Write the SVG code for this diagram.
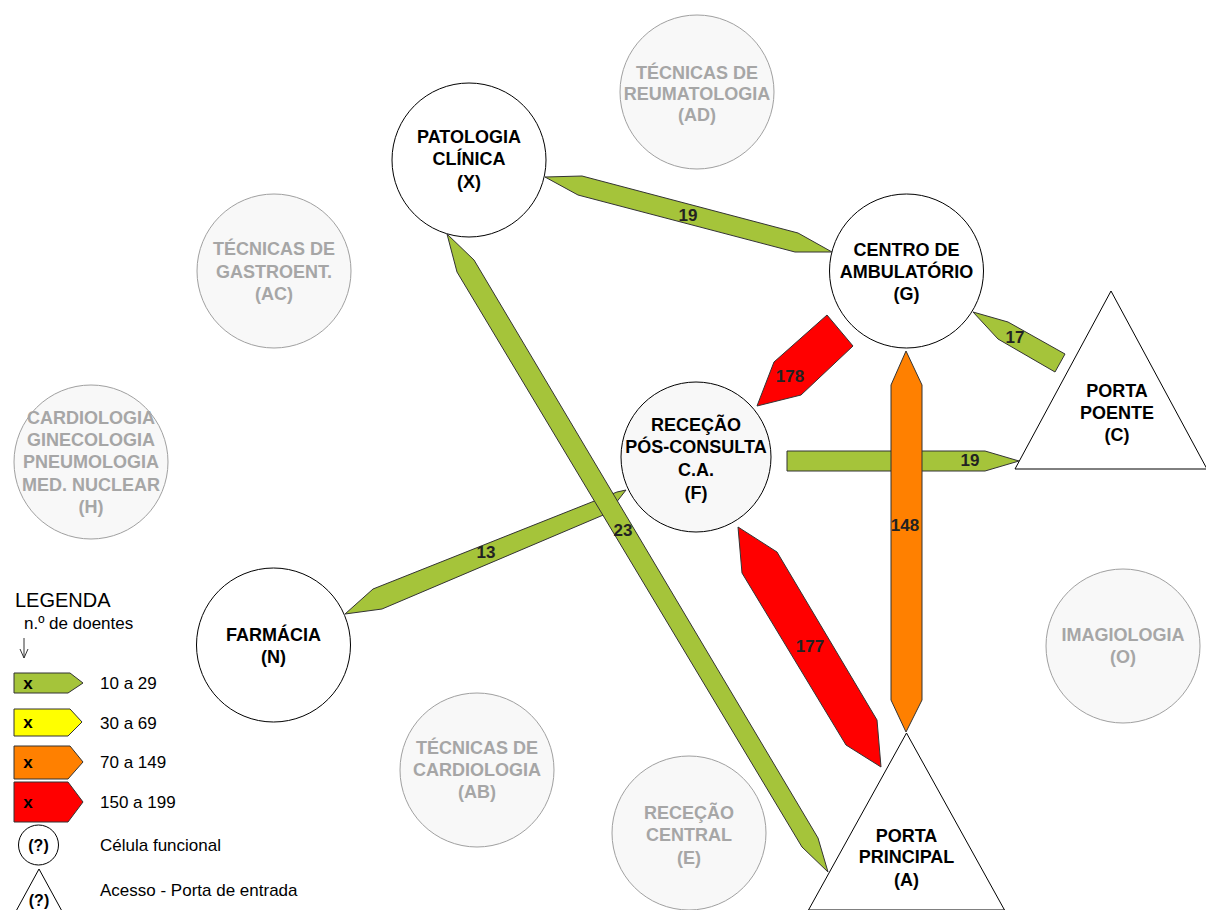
<svg xmlns="http://www.w3.org/2000/svg" width="1206" height="910" viewBox="0 0 1206 910">
<style>
text{font-family:"Liberation Sans",Arial,sans-serif;}
.n{font-size:18px;font-weight:bold;fill:#000;text-anchor:middle;}
.g{font-size:18px;font-weight:bold;fill:#a6a6a6;text-anchor:middle;}
.main{fill:#fff;stroke:#000;stroke-width:1;}
.grey{fill:#f8f8f8;stroke:#a0a0a0;stroke-width:1;}
.lbl{font-size:17px;font-weight:bold;fill:#222;text-anchor:middle;}
.ar{stroke:#333;stroke-width:1;stroke-linejoin:round;}
.gr{fill:#a5c43a;}
.ye{fill:#ffff00;}
.or{fill:#ff8000;}
.re{fill:#ff0000;}
.leg{font-size:17px;fill:#000;}
.lx{font-size:17px;font-weight:bold;fill:#000;text-anchor:middle;}
</style>
<rect width="1206" height="910" fill="#fff"/>

<g id="node-AD"><circle class="grey" cx="697" cy="92" r="77"/><text class="g" x="697" y="79">TÉCNICAS DE</text><text class="g" x="697" y="100">REUMATOLOGIA</text><text class="g" x="697" y="121">(AD)</text></g>
<g id="node-AC"><circle class="grey" cx="274" cy="271" r="77"/><text class="g" x="274" y="255">TÉCNICAS DE</text><text class="g" x="274" y="278">GASTROENT.</text><text class="g" x="274" y="300">(AC)</text></g>
<g id="node-H"><circle class="grey" cx="91" cy="462" r="77"/><text class="g" x="91" y="424">CARDIOLOGIA</text><text class="g" x="91" y="446">GINECOLOGIA</text><text class="g" x="91" y="468">PNEUMOLOGIA</text><text class="g" x="91" y="491">MED. NUCLEAR</text><text class="g" x="91" y="513">(H)</text></g>
<g id="node-AB"><circle class="grey" cx="477" cy="770" r="77"/><text class="g" x="477" y="754">TÉCNICAS DE</text><text class="g" x="477" y="776">CARDIOLOGIA</text><text class="g" x="477" y="798">(AB)</text></g>
<g id="node-E"><circle class="grey" cx="689" cy="833" r="77"/><text class="g" x="689" y="819">RECEÇÃO</text><text class="g" x="689" y="841">CENTRAL</text><text class="g" x="689" y="864">(E)</text></g>
<g id="node-O"><circle class="grey" cx="1123" cy="646" r="77"/><text class="g" x="1123" y="641">IMAGIOLOGIA</text><text class="g" x="1123" y="663">(O)</text></g>

<g id="node-X"><circle class="main" cx="469" cy="160" r="77"/><text class="n" x="469" y="143">PATOLOGIA</text><text class="n" x="469" y="165">CLÍNICA</text><text class="n" x="469" y="188">(X)</text></g>
<g id="node-G"><circle class="main" cx="906.5" cy="271" r="77"/><text class="n" x="906.5" y="256">CENTRO DE</text><text class="n" x="906.5" y="278">AMBULATÓRIO</text><text class="n" x="906.5" y="300">(G)</text></g>
<g id="node-F"><circle class="main" cx="696" cy="457" r="75" style="fill:#f8f8f8"/><text class="n" x="696" y="431">RECEÇÃO</text><text class="n" x="696" y="453">PÓS-CONSULTA</text><text class="n" x="696" y="476">C.A.</text><text class="n" x="696" y="499">(F)</text></g>
<g id="node-N"><circle class="main" cx="273.5" cy="645" r="77"/><text class="n" x="273.5" y="641">FARMÁCIA</text><text class="n" x="273.5" y="663">(N)</text></g>
<g id="node-C"><polygon class="main" points="1111,291 1207,469 1015,469"/><text class="n" x="1117" y="397">PORTA</text><text class="n" x="1117" y="419">POENTE</text><text class="n" x="1117" y="441">(C)</text></g>
<g id="node-A"><polygon class="main" points="906.5,733 1004.5,910 808.5,910"/><text class="n" x="906.5" y="842">PORTA</text><text class="n" x="906.5" y="863">PRINCIPAL</text><text class="n" x="906.5" y="886">(A)</text></g>

<g id="connectors">
<polygon class="ar gr" points="787,451 985,451 1019,461 985,471 787,471"/>
<text class="lbl" x="970" y="466">19</text>
<polygon class="ar or" points="906,351 922,385 922,700 906,732 891,700 891,385"/>
<text class="lbl" x="905" y="531">148</text>
<polygon class="ar gr" points="545,177 582,176 798,233 832,252 795,252 578,195"/>
<text class="lbl" x="688" y="221">19</text>
<polygon class="ar gr" points="973,312 1008,322 1065,354 1055,372 998,339"/>
<text class="lbl" x="1015" y="343">17</text>
<polygon class="ar re" points="827,315 853,346 801,395 757,406 774,362"/>
<text class="lbl" x="790" y="382">178</text>
<polygon class="ar gr" points="345,614 373,589 617,492 626,490 608,513 382,609"/>
<text class="lbl" x="486" y="558">13</text>
<polygon class="ar gr" points="447,234 474,260 818,838 828,872 802,847 457,272"/>
<text class="lbl" x="623" y="536">23</text>
<polygon class="ar re" points="738,527 777,552 877,720 881,767 846,745 742,573"/>
<text class="lbl" x="810" y="652">177</text>
</g>

<g id="legend">
<text x="15" y="607" style="font-size:20px;fill:#000">LEGENDA</text>
<text class="leg" x="24" y="629">n.º de doentes</text>
<path d="M24,638 V658 M20,649 L24,658 L28,649" fill="none" stroke="#333" stroke-width="1"/>
<polygon class="ar gr" points="14,673 70,673 83,683 68,693 14,693"/>
<text class="lx" x="28" y="689">x</text>
<text class="leg" x="100" y="689">10 a 29</text>
<polygon class="ar ye" points="14,709 70,709 82,722 68,736 14,736"/>
<text class="lx" x="28" y="728">x</text>
<text class="leg" x="100" y="729">30 a 69</text>
<polygon class="ar or" points="14,746 70,746 83,762 68,779 14,779"/>
<text class="lx" x="28" y="768">x</text>
<text class="leg" x="100" y="768">70 a 149</text>
<polygon class="ar re" points="14,782 68,782 83,802 68,822 14,822"/>
<text class="lx" x="28" y="808">x</text>
<text class="leg" x="100" y="808">150 a 199</text>
<circle class="main" cx="38.5" cy="845" r="20"/>
<text class="lx" x="38.5" y="851" style="font-size:16px">(?)</text>
<text class="leg" x="100" y="851">Célula funcional</text>
<polygon class="main" points="39,869 63,913 15,913"/>
<text class="lx" x="39" y="906" style="font-size:16px">(?)</text>
<text class="leg" x="100" y="896">Acesso - Porta de entrada</text>
</g>
</svg>
